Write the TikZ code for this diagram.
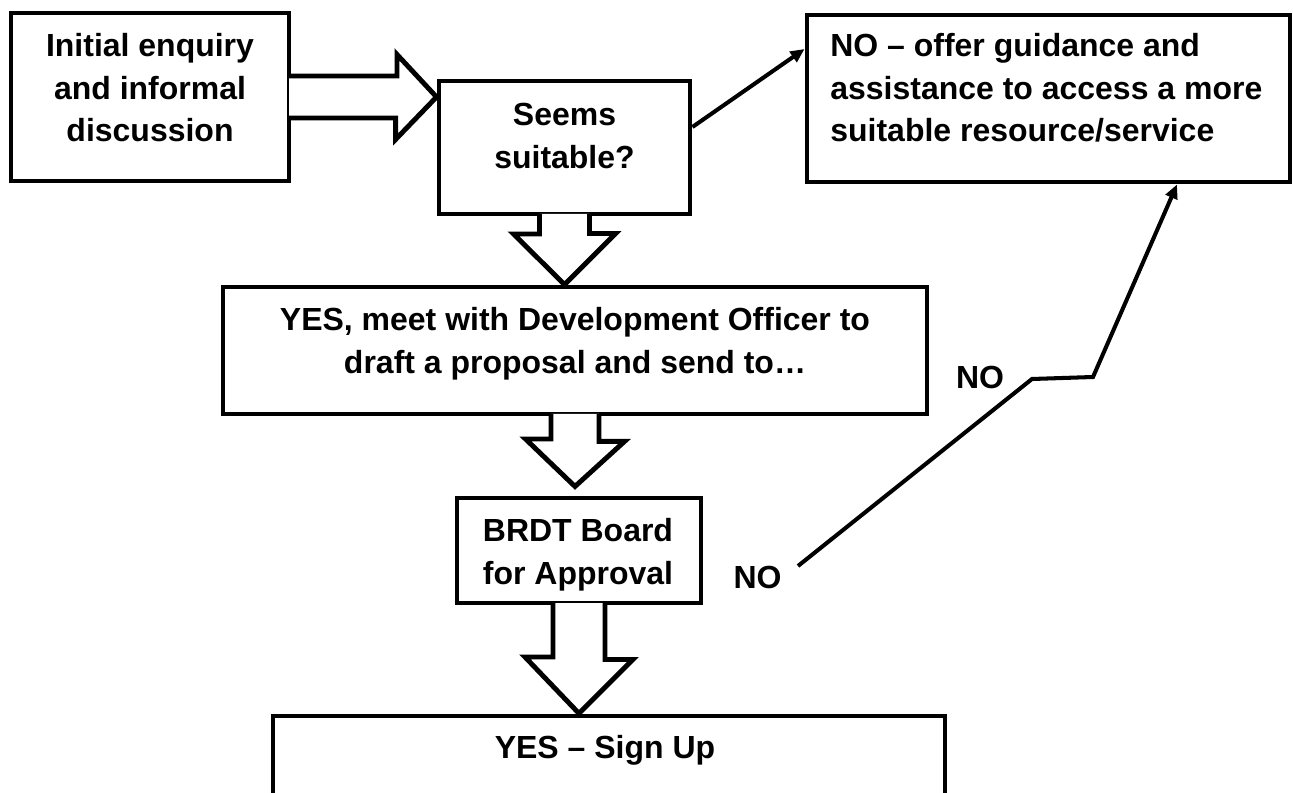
\documentclass[tikz,border=0pt]{standalone}
\usepackage{fontspec}
\setmainfont{Liberation Sans}
\usetikzlibrary{calc,arrows.meta}

\tikzset{
  box/.style={draw, line width=2.8pt, inner sep=0pt},
  txt/.style={font=\fontsize{18.2}{24.2}\selectfont\bfseries, align=center, inner sep=0pt},
  callout/.style={draw, fill=white, line width=2.8pt},
  noline/.style={line width=2.3pt},
}

\begin{document}
\begin{tikzpicture}
    \useasboundingbox (0,0) rectangle (25.86,15.84);
    \clip (0,0) rectangle (25.86,15.84);
    % boxes
    \node[box, minimum width=5.56cm, minimum height=3.36cm] (initial) at (3.00,13.90) {};
    \node[box, minimum width=5.02cm, minimum height=2.66cm] (seems) at (11.29,12.89) {};
    \node[box, minimum width=14.08cm, minimum height=2.54cm] (meet) at (11.50,8.83) {};
    \node[box, minimum width=4.88cm, minimum height=2.10cm] (approval) at (11.58,4.83) {};
    \node[box, minimum width=13.44cm, minimum height=2.28cm] (signup) at (12.18,0.38) {};
    \node[box, minimum width=9.66cm, minimum height=3.34cm] (offer) at (20.97,13.87) {};
    % block arrows
    \draw[callout] ([shift={(-1.4pt,0.42)}]initial.east) -- ++(2.16,0) -- ++(0,0.43) -- (seems.west |- initial.east) -- ++(-0.82,-0.85) -- ++(0,0.43) -- ([shift={(-1.4pt,-0.42)}]initial.east); % to seems
    \draw[callout] ([shift={(-0.5,1.4pt)}]seems.south) -- ++(0,-0.4) -- ++(-0.52,0) -- (seems.south |- meet.north) -- ++(1.02,1.02) -- ++(-0.52,0) -- ([shift={(0.5,1.4pt)}]seems.south); % to meet
    \draw[callout] ([shift={(-0.48,1.4pt)}]meet.south) -- ++(0,-0.5) -- ++(-0.51,0) -- ([yshift=-1.4cm]meet.south) -- ++(0.99,0.9) -- ++(-0.51,0) -- ([shift={(0.48,1.4pt)}]meet.south); % to approval
    \draw[callout] ([shift={(-0.52,1.4pt)}]approval.south) -- ++(0,-1.08) -- ++(-0.56,0) -- ([yshift=-2.16cm]approval.south) -- ++(1.08,1.08) -- ++(-0.56,0) -- ([shift={(0.52,1.4pt)}]approval.south); % to signup
    % texts
    \node[txt, anchor=north] (initialtxt) at (3.00,15.18) {Initial enquiry\\and informal\\discussion};
    \node[txt, anchor=north] (seemstxt) at (11.29,13.78) {Seems\\suitable?};
    \node[txt, anchor=north] (meettxt) at (11.50,9.70) {YES, meet with Development Officer to\\draft a proposal and send to…};
    \node[txt, anchor=north] (approvaltxt) at (11.56,5.48) {BRDT Board\\for Approval};
    \node[txt, anchor=north] (signuptxt) at (12.10,1.14) {YES – Sign Up};
    \node[txt, align=left, anchor=north west] (offertxt) at (16.60,15.18) {NO – offer guidance and\\assistance to access a more\\suitable resource/service};
    % NO connectors
    \draw[noline, -{Triangle[length=8pt,width=7pt]}] ([yshift=0.41cm]seems.east) -- ([yshift=0.99cm]offer.west);
    \coordinate (nostart) at (15.96,4.52);
    \coordinate (bendone) at (20.64,8.26);
    \coordinate (bendtwo) at (21.86,8.30);
    \draw[noline, -{Triangle[length=8pt,width=7pt]}] (nostart) -- (bendone) -- (bendtwo) -- ([xshift=2.57cm]offer.south);
    \node[txt] (nolow) at (15.15,4.29) {NO};
    \node[txt] (nohigh) at (19.60,8.29) {NO};
\end{tikzpicture}
\end{document}
